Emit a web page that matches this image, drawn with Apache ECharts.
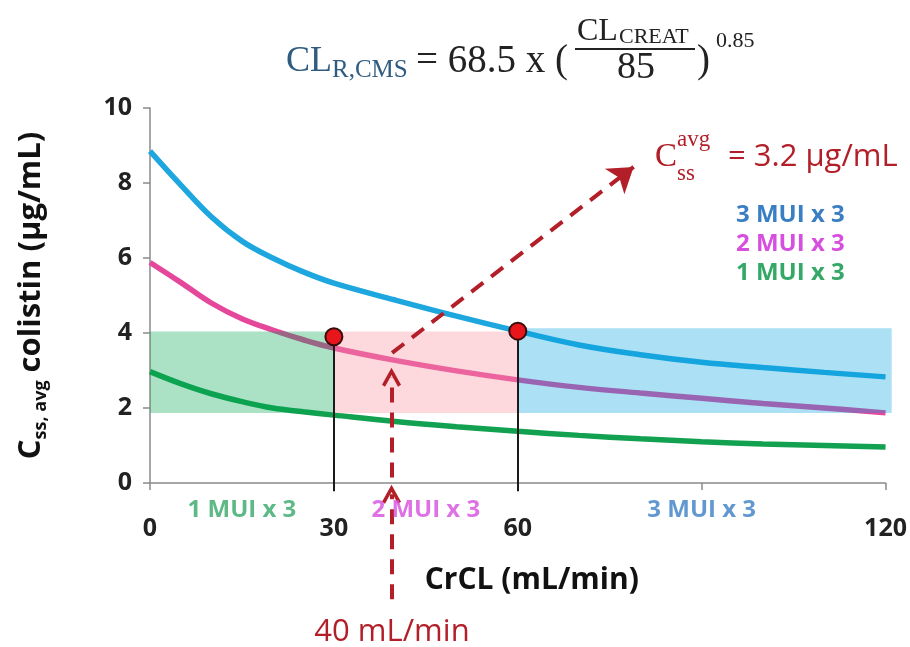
<!DOCTYPE html>
<html>
<head>
<meta charset="utf-8">
<script src="https://cdn.jsdelivr.net/npm/echarts@6/dist/echarts.min.js"></script>
<style>
  html, body { margin: 0; background: #fff; }
  #chart { width: 910px; height: 647px; }
</style>
</head>
<body>
<div id="chart"></div>
<script>
// values
const crcl = [0, 5, 10, 15, 20, 25, 30, 40, 50, 60, 70, 80, 90, 100, 110, 120];
const mui3 = [8.85, 7.95, 7.1, 6.45, 6.0, 5.63, 5.33, 4.88, 4.45, 4.05, 3.68, 3.42, 3.22, 3.08, 2.95, 2.83];
const mui2 = [5.88, 5.35, 4.8, 4.38, 4.08, 3.82, 3.6, 3.27, 2.99, 2.75, 2.55, 2.4, 2.26, 2.12, 2.0, 1.87];
const mui1 = [2.97, 2.65, 2.38, 2.17, 2.0, 1.9, 1.81, 1.64, 1.5, 1.38, 1.27, 1.18, 1.1, 1.04, 1.0, 0.96];

const bandStart = [0, 30, 60];
const bandEnd = [30, 60, 121];
const bandLow = [1.87, 1.87, 1.87];
const bandHigh = [4.04, 4.04, 4.13];

const targetPoints = [[30, 3.9], [60, 4.05]];
const arrowX = 39.4;
const arrowTipY = 3.2;
const diagFrom = [39.5, 3.47];
const diagTo = [78.9, 8.43];

const regimenLabels = ['1 MUI x 3', '2 MUI x 3', '3 MUI x 3'];
const regimenLabelX = [15, 45, 90];
const xTickLabels = [0, 30, 60, 120];

const RED = '#b31f29';
const SANS = '"Open Sans", Lato, sans-serif';
const SERIF = '"Liberation Serif", "DejaVu Serif", serif';
const bandColors = ['rgba(0,166,81,0.33)', 'rgba(250,150,160,0.36)', 'rgba(0,160,225,0.33)'];
const labelColors = ['#34a866', '#d64fdf', '#3a7ec4'];
const chevron = 'path://M0,18 L11,0 L22,18 L18.5,20 L11,7.5 L3.5,20 Z';

const chart = echarts.init(document.getElementById('chart'));

const curve = (vals) => crcl.map((x, i) => [x, vals[i]]);

function txt(text, x, y, size, fill, opts = {}) {
  return {
    type: 'text', x, y, z: 10,
    style: {
      text, fill,
      font: (opts.weight || 'normal') + ' ' + size + 'px ' + (opts.family || SANS),
      align: opts.align || 'left',
      verticalAlign: 'middle'
    }
  };
}

const option = {
  animation: false,
  grid: { left: 150, right: 23, top: 108, bottom: 164 },
  xAxis: {
    type: 'value', min: 0, max: 120, interval: 30,
    name: 'CrCL (mL/min)',
    nameLocation: 'middle', nameGap: 82,
    nameTextStyle: { fontFamily: SANS, fontWeight: 'bold', fontSize: 30, color: '#111', padding: [0, 0, 0, 28] },
    axisLine: { lineStyle: { color: '#8a8a8a', width: 1.5 } },
    axisTick: { length: 7, lineStyle: { color: '#8a8a8a', width: 1.5 } },
    axisLabel: {
      margin: 33, fontFamily: SANS, fontWeight: 'bold', fontSize: 25, color: '#222',
      formatter: v => (xTickLabels.includes(v) ? String(v) : '')
    },
    splitLine: { show: false }
  },
  yAxis: {
    type: 'value', min: 0, max: 10, interval: 2,
    name: '{c|C}{s|ss, avg}{c| colistin (μg/mL)}',
    nameLocation: 'middle', nameRotate: 90, nameGap: 100,
    nameTextStyle: {
      rich: {
        c: { fontFamily: SANS, fontWeight: 'bold', fontSize: 31, color: '#111', lineHeight: 38 },
        s: { fontFamily: SANS, fontWeight: 'bold', fontSize: 18, color: '#111', lineHeight: 18, verticalAlign: 'bottom' }
      }
    },
    axisLine: { show: true, lineStyle: { color: '#8a8a8a', width: 1.5 } },
    axisTick: { show: true, length: 7, lineStyle: { color: '#8a8a8a', width: 1.5 } },
    axisLabel: { margin: 18, fontFamily: SANS, fontWeight: 'bold', fontSize: 25, color: '#222' },
    splitLine: { show: false }
  },
  series: [
    {
      name: '3 MUI x 3', type: 'line', data: curve(mui3), smooth: 0.4, symbol: 'none', z: 2,
      lineStyle: { color: '#1ea7de', width: 5.5 }
    },
    {
      name: '2 MUI x 3', type: 'line', data: curve(mui2), smooth: 0.4, symbol: 'none', z: 2,
      lineStyle: { color: '#e5489b', width: 5.5 }
    },
    {
      name: '1 MUI x 3', type: 'line', data: curve(mui1), smooth: 0.4, symbol: 'none', z: 2,
      lineStyle: { color: '#12a150', width: 5.5 }
    },
    {
      // target bands, laid over the curves
      type: 'custom', z: 3, clip: false, silent: true,
      data: bandStart.map((s, i) => [s, bandEnd[i], bandLow[i], bandHigh[i]]),
      renderItem(params, api) {
        const p0 = api.coord([api.value(0), api.value(3)]);
        const p1 = api.coord([api.value(1), api.value(2)]);
        return {
          type: 'rect',
          shape: { x: p0[0], y: p0[1], width: p1[0] - p0[0], height: p1[1] - p0[1] },
          style: { fill: bandColors[params.dataIndex] }
        };
      }
    },
    {
      // drop lines from the target points
      type: 'lines', coordinateSystem: 'cartesian2d', clip: false, z: 4, silent: true,
      symbol: 'none',
      lineStyle: { color: '#1b1b1b', width: 2, opacity: 1 },
      data: targetPoints.map(p => ({ coords: [[p[0], -0.22], p] }))
    },
    {
      type: 'lines', coordinateSystem: 'cartesian2d', clip: false, z: 5, silent: true,
      symbol: ['none', chevron], symbolSize: [22, 19],
      lineStyle: { color: RED, width: 4, type: [15, 10], opacity: 1 },
      data: [
        { coords: [[arrowX, -3.1], [arrowX, -0.3]] },
        { coords: [[arrowX, 0.15], [arrowX, arrowTipY - 0.38]] }
      ]
    },
    {
      type: 'lines', coordinateSystem: 'cartesian2d', clip: false, z: 5, silent: true,
      symbol: ['none', 'arrow'], symbolSize: [20, 24],
      lineStyle: { color: RED, width: 4, type: [15, 10], opacity: 1 },
      data: [{ coords: [diagFrom, diagTo] }]
    },
    {
      type: 'scatter', z: 6, silent: true,
      data: targetPoints, symbolSize: 17,
      itemStyle: { color: '#e8161c', borderColor: '#3b0b0b', borderWidth: 2, opacity: 1 }
    },
    {
      type: 'scatter', z: 6, clip: false, silent: true, symbolSize: 0,
      data: regimenLabelX.map((x, i) => ({
        value: [x, -0.72],
        label: { color: labelColors[i] }
      })),
      label: {
        show: true, position: 'inside',
        fontFamily: SANS, fontWeight: 'bold', fontSize: 24,
        formatter: p => regimenLabels[p.dataIndex]
      }
    }
  ],
  graphic: [
    // formula
    txt('CL', 286, 62, 36, '#2f5c80', { family: SERIF }),
    txt('R,CMS', 332, 70, 25, '#2f5c80', { family: SERIF }),
    txt('= 68.5 x (', 416, 62, 39, '#222', { family: SERIF }),
    txt('CL', 577, 32, 32, '#222', { family: SERIF }),
    txt('CREAT', 619, 37, 22, '#222', { family: SERIF }),
    { type: 'line', z: 10, shape: { x1: 575, y1: 49, x2: 695, y2: 49 }, style: { stroke: '#222', lineWidth: 2 } },
    txt('85', 636, 68, 38, '#222', { family: SERIF, align: 'center' }),
    txt(')', 697, 62, 39, '#222', { family: SERIF }),
    txt('0.85', 716, 41, 22, '#222', { family: SERIF }),
    // result annotation
    txt('C', 655, 157, 33, RED, { family: SERIF }),
    txt('avg', 677, 140, 23, RED, { family: SERIF }),
    txt('ss', 677, 174, 23, RED, { family: SERIF }),
    txt('= 3.2 μg/mL', 728, 157, 31, RED),
    // legend text
    txt('3 MUI x 3', 736, 215, 24, labelColors[2], { weight: 'bold' }),
    txt('2 MUI x 3', 736, 244, 24, labelColors[1], { weight: 'bold' }),
    txt('1 MUI x 3', 736, 273, 24, labelColors[0], { weight: 'bold' }),
    txt('40 mL/min', 392, 632, 31, RED, { align: 'center' })
  ]
};

chart.setOption(option);
</script>
</body>
</html>
